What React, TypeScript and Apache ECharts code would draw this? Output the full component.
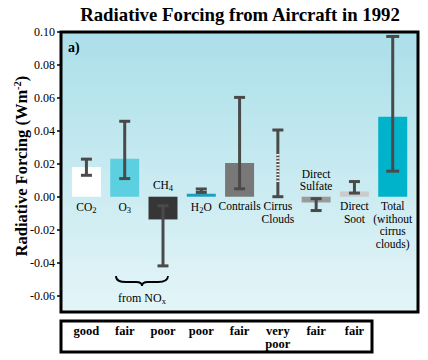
import React, { useEffect, useRef } from "react";
import * as echarts from "echarts";

// ---- data ----
const categories = ["CO2", "O3", "CH4", "H2O", "Contrails", "Cirrus Clouds", "Direct Sulfate", "Direct Soot", "Total (without cirrus clouds)"];
const barValues: (number | null)[] = [0.018, 0.023, -0.0138, 0.0018, 0.0205, null, -0.0035, 0.0032, 0.0485];
const errLow = [0.013, 0.011, -0.042, 0.0026, 0.0048, 0.0, -0.0084, 0.0022, 0.0155];
const errHigh = [0.0228, 0.0458, -0.0055, 0.0047, 0.0603, 0.0405, -0.0012, 0.0092, 0.0973];
const cirrusUncertainSpan = [0.009, 0.027];
const labelTexts = [
  "CO{sub|2}", "O{sub|3}", "CH{sub|4}", "H{sub|2}O", "Contrails",
  "Cirrus\nClouds", "Direct\nSulfate", "Direct\nSoot", "Total\n(without\ncirrus\nclouds)",
];
const labelAbove = [false, false, true, false, false, false, true, false, false];
const confidence = ["good", "fair", "poor", "poor", "fair", "very\npoor", "fair", "fair"];
const yTicks = [-0.06, -0.04, -0.02, 0, 0.02, 0.04, 0.06, 0.08, 0.1];

// ---- styles ----
const barColors = ["#ffffff", "#5ccfe0", "#363636", "#1a9ec2", "#787878", "#000000", "#9a9a9a", "#cbcbcb", "#00b3cb"];
const SERIF = '"Liberation Serif", "Times New Roman", "DejaVu Serif", serif';
const ERR = "#4a4a4a";
const BAR_W = 29;

echarts.graphic.registerShape(
  "brace",
  echarts.graphic.extendPath(
    "M0 0 C0 5 4 6 10 6 L20 6 C24 6 26 8 26 10 C26 8 28 6 32 6 L42 6 C48 6 52 5 52 0",
    {}
  ) as any
);

export default function App() {
  const ref = useRef<HTMLDivElement>(null);
  useEffect(() => {
    if (!ref.current) return;
    const chart = echarts.init(ref.current, null, { renderer: "svg" });

    const barData = barValues
      .map((v, i) => (v == null ? null : [i, v]))
      .filter((d) => d != null);

    const errData = categories.map((_, i) => [i, errLow[i], errHigh[i]]);

    const option: any = {
      animation: false,
      backgroundColor: "#ffffff",
      grid: {
        left: 61,
        right: 10,
        top: 32,
        bottom: 48,
        show: true,
        borderColor: "#000",
        borderWidth: 3,
        backgroundColor: new echarts.graphic.LinearGradient(0, 0, 0, 1, [
          { offset: 0, color: "#abdfe9" },
          { offset: 1, color: "#e4f5f8" },
        ]),
      },
      xAxis: {
        type: "value",
        min: -0.664,
        max: 8.66,
        show: false,
      },
      yAxis: {
        type: "value",
        min: -0.07,
        max: 0.1,
        axisLine: { show: false, onZero: false },
        splitLine: { show: false },
        axisTick: {
          show: true,
          inside: false,
          length: 4,
          lineStyle: { color: "#000", width: 1.5 },
          customValues: yTicks,
        },
        axisLabel: {
          customValues: yTicks,
          margin: 6,
          fontFamily: SERIF,
          fontSize: 12,
          color: "#000",
          formatter: (v: number) => v.toFixed(2),
        },
      },
      series: [
        {
          type: "custom",
          z: 2,
          data: barData,
          encode: { x: 0, y: 1 },
          renderItem: (params: any, api: any) => {
            const x = api.value(0);
            const p0 = api.coord([x, 0]);
            const p1 = api.coord([x, api.value(1)]);
            const top = Math.min(p0[1], p1[1]);
            return {
              type: "rect",
              shape: { x: p0[0] - BAR_W / 2, y: top, width: BAR_W, height: Math.abs(p1[1] - p0[1]) },
              style: { fill: barColors[x] },
            };
          },
        },
        {
          type: "custom",
          z: 3,
          data: errData,
          encode: { x: 0, y: [1, 2] },
          renderItem: (params: any, api: any) => {
            const x = api.value(0);
            const lo = api.coord([x, api.value(1)]);
            const hi = api.coord([x, api.value(2)]);
            const cap = x === 8 ? 6.5 : 5.5;
            const style = { stroke: ERR, lineWidth: 3 };
            return {
              type: "group",
              children: [
                { type: "line", shape: { x1: lo[0], y1: lo[1], x2: hi[0], y2: hi[1] }, style },
                { type: "line", shape: { x1: lo[0] - cap, y1: lo[1], x2: lo[0] + cap, y2: lo[1] }, style },
                { type: "line", shape: { x1: hi[0] - cap, y1: hi[1], x2: hi[0] + cap, y2: hi[1] }, style },
              ],
            };
          },
        },
        {
          type: "custom",
          z: 4,
          data: [[5, cirrusUncertainSpan[0], cirrusUncertainSpan[1]]],
          encode: { x: 0, y: [1, 2] },
          renderItem: (params: any, api: any) => {
            const x = api.value(0);
            const lo = api.coord([x, api.value(1)]);
            const hi = api.coord([x, api.value(2)]);
            return {
              type: "line",
              shape: { x1: lo[0], y1: lo[1], x2: hi[0], y2: hi[1] },
              style: { stroke: "#ffffff", lineWidth: 3.2, lineDash: [1.5, 1.8] },
            };
          },
        },
        {
          type: "custom",
          z: 5,
          clip: false,
          data: categories.map((_, i) => [i, 0]),
          encode: { x: 0, y: 1 },
          renderItem: (params: any, api: any) => {
            const i = params.dataIndex;
            const p = api.coord([api.value(0), 0]);
            const txt = labelTexts[i];
            const hasSub = txt.indexOf("{sub|") >= 0;
            const lh = hasSub ? 15 : 12.5;
            const above = labelAbove[i];
            return {
              type: "text",
              x: p[0],
              y: above ? p[1] - 4 : p[1] + (hasSub ? 2.5 : 3.5),
              style: {
                text: txt,
                fill: "#000",
                fontFamily: SERIF,
                fontSize: 11.5,
                lineHeight: lh,
                align: "center",
                verticalAlign: above ? "bottom" : "top",
                rich: {
                  sub: { fontFamily: SERIF, fontSize: 8.5, lineHeight: 9, verticalAlign: "bottom", fill: "#000" },
                },
              },
            };
          },
        },
        {
          type: "custom",
          z: 5,
          clip: false,
          data: confidence.map((_, i) => [i, 0]),
          encode: { x: 0, y: 1 },
          renderItem: (params: any, api: any) => {
            const i = params.dataIndex;
            const p = api.coord([api.value(0), 0]);
            return {
              type: "text",
              x: p[0],
              y: 324,
              style: {
                text: confidence[i],
                fill: "#000",
                fontFamily: SERIF,
                fontWeight: "bold",
                fontSize: 12.5,
                lineHeight: 13,
                align: "center",
                verticalAlign: "top",
              },
            };
          },
        },
      ],
      graphic: [
        {
          type: "text",
          x: 240,
          y: 14,
          style: {
            text: "Radiative Forcing from Aircraft in 1992",
            fill: "#000",
            fontFamily: SERIF,
            fontWeight: "bold",
            fontSize: 18.8,
            align: "center",
            verticalAlign: "middle",
          },
        },
        {
          type: "text",
          x: 21,
          y: 166,
          rotation: Math.PI / 2,
          style: {
            text: "Radiative Forcing (Wm{sup|-2})",
            fill: "#000",
            fontFamily: SERIF,
            fontWeight: "bold",
            fontSize: 16.5,
            lineHeight: 18,
            align: "center",
            verticalAlign: "middle",
            rich: {
              sup: { fontFamily: SERIF, fontWeight: "bold", fontSize: 10.5, lineHeight: 10, verticalAlign: "top", fill: "#000" },
            },
          },
        },
        {
          type: "text",
          x: 68,
          y: 47,
          z: 10,
          style: {
            text: "a)",
            fill: "#000",
            fontFamily: SERIF,
            fontWeight: "bold",
            fontSize: 14,
            align: "left",
            verticalAlign: "middle",
          },
        },
        {
          type: "brace",
          x: 116,
          y: 276,
          z: 10,
          style: { stroke: "#000", fill: "none", lineWidth: 1.8 },
        },
        {
          type: "text",
          x: 142,
          y: 298,
          z: 10,
          style: {
            text: "from NO{sub|x}",
            fill: "#000",
            fontFamily: SERIF,
            fontSize: 12,
            lineHeight: 15,
            align: "center",
            verticalAlign: "middle",
            rich: {
              sub: { fontFamily: SERIF, fontSize: 8.5, lineHeight: 9, verticalAlign: "bottom", fill: "#000" },
            },
          },
        },
        {
          type: "rect",
          shape: { x: 61, y: 321, width: 311, height: 31 },
          z: 10,
          style: { stroke: "#000", fill: "none", lineWidth: 3 },
        },
      ],
    };

    chart.setOption(option);
    return () => chart.dispose();
  }, []);

  return <div ref={ref} style={{ position: "absolute", left: 0, top: 0, width: 428, height: 360 }} />;
}
